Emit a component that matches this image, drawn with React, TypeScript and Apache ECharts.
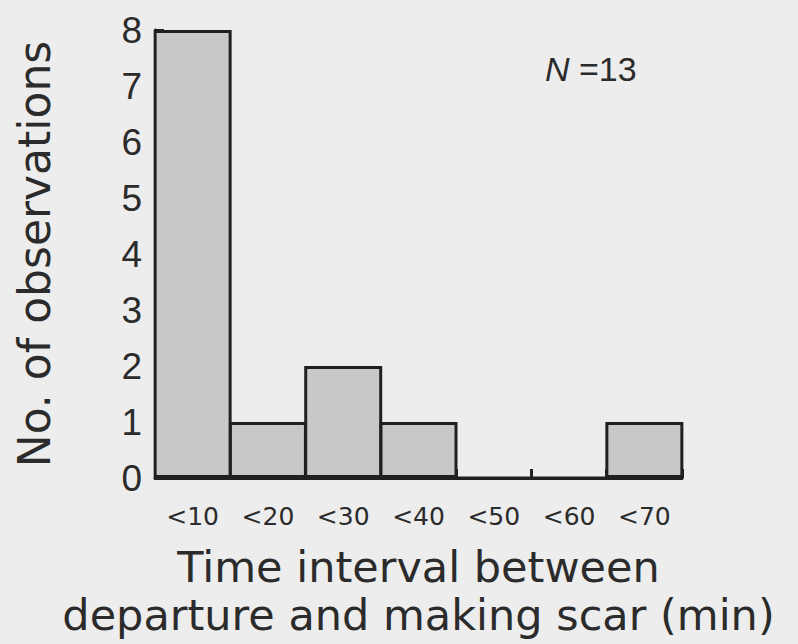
import React, { useEffect, useRef } from "react";
import * as echarts from "echarts";

const categories = ["<10", "<20", "<30", "<40", "<50", "<60", "<70"];
const counts = [8, 1, 2, 1, 0, 0, 1];
const yMin = 0;
const yMax = 8;
const yStep = 1;
const xTitle = "Time interval between\ndeparture and making scar (min)";
const yTitle = "No. of observations";
const sampleSize = 13;

const INK = "#202020";
const TEXT = "#2b2b2b";
const TITLE_FONT = "DejaVu Sans";
const TICK_FONT = "Liberation Sans";

export default function App() {
  const ref = useRef<HTMLDivElement>(null);

  useEffect(() => {
    if (!ref.current) return;
    const chart = echarts.init(ref.current, undefined, { renderer: "svg" });
    chart.setOption({
      animation: false,
      backgroundColor: "#ededed",
      grid: { left: 155, right: 116, top: 30, bottom: 165 },
      xAxis: {
        type: "category",
        data: categories,
        boundaryGap: true,
        axisLine: { lineStyle: { color: INK, width: 3 } },
        axisTick: { show: true, inside: true, length: 9, lineStyle: { color: INK, width: 3 } },
        axisLabel: { fontFamily: TITLE_FONT, fontSize: 25, color: TEXT, margin: 26 },
        name: xTitle,
        nameLocation: "middle",
        nameGap: 65,
        nameTextStyle: { fontFamily: TITLE_FONT, fontSize: 43, lineHeight: 48, color: TEXT },
      },
      yAxis: {
        type: "value",
        min: yMin,
        max: yMax,
        interval: yStep,
        axisLine: { show: true, lineStyle: { color: INK, width: 3 } },
        axisTick: { show: true, inside: true, length: 9, lineStyle: { color: INK, width: 3 } },
        splitLine: { show: false },
        axisLabel: { fontFamily: TICK_FONT, fontSize: 37, color: TEXT, margin: 13 },
        name: yTitle,
        nameLocation: "middle",
        nameGap: 99,
        nameRotate: 90,
        nameTextStyle: { fontFamily: TITLE_FONT, fontSize: 44, color: TEXT },
      },
      series: [
        {
          type: "bar",
          data: counts,
          barWidth: 78,
          itemStyle: { color: "#c8c8c8", borderColor: INK, borderWidth: 3 },
        },
      ],
      graphic: [
        {
          type: "text",
          left: 545,
          top: 52,
          style: {
            text: "{i|N} =" + sampleSize,
            fontFamily: TICK_FONT,
            fontSize: 34,
            fill: TEXT,
            rich: {
              i: { fontFamily: TICK_FONT, fontSize: 34, fontStyle: "italic", fill: TEXT },
            },
          },
        },
      ],
    });
    return () => chart.dispose();
  }, []);

  return (
    <div
      ref={ref}
      style={{ position: "absolute", left: 0, top: 0, width: 798, height: 644 }}
    />
  );
}
